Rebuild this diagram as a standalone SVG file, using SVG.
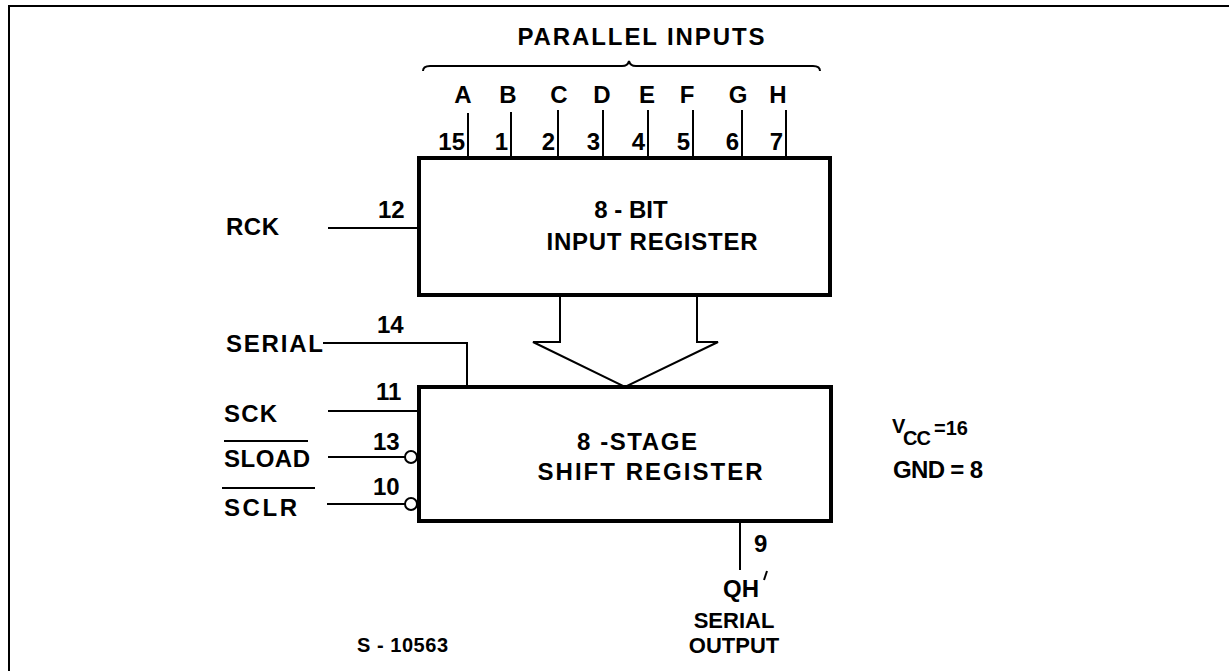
<svg xmlns="http://www.w3.org/2000/svg" width="1229" height="671" viewBox="0 0 1229 671">
<style>
text{font-family:"Liberation Sans",Arial,sans-serif;font-weight:bold;font-size:24px;fill:#000}
.sm{font-size:20px}
.md{font-size:22px}
.ln{stroke:#000;stroke-width:2;fill:none}
.box{stroke:#000;stroke-width:4;fill:#fff}
</style>
<rect width="1229" height="671" fill="#fff"/>
<path d="M9,671 V6 H1229" class="ln" stroke-width="3"/>
<g id="header">
<text x="641" y="45" text-anchor="middle" textLength="247" lengthAdjust="spacing">PARALLEL INPUTS</text>
<path class="ln" d="M423,71 Q423,66 430,66 L622,66 Q628,66 629,61 Q630,66 636,66 L813,66 Q820,66 820,71"/>
</g>
<g id="connectors">
<path class="ln" d="M468,113 V158 M511,112 V158 M558,110 V158 M603,110 V158 M648,110 V158 M693,110 V158 M742,110 V158 M786,110 V158"/>
<path class="ln" d="M328,228 H419"/>
<path class="ln" d="M323,343 H467 V387"/>
<path class="ln" d="M328,411 H419"/>
<path class="ln" d="M328,457 H405"/>
<circle cx="411" cy="457" r="6" class="ln" fill="#fff"/>
<path class="ln" d="M327,504 H405"/>
<circle cx="411" cy="504" r="6" class="ln" fill="#fff"/>
<path class="ln" d="M740,521 V570"/>
<path class="ln" d="M560,295 V342 H533 L625,387 L718,342 H697 V295" stroke-linejoin="miter"/>
</g>
<g id="pinlabels">
<text x="463" y="103" text-anchor="middle">A</text>
<text x="508" y="103" text-anchor="middle">B</text>
<text x="559" y="103" text-anchor="middle">C</text>
<text x="602" y="103" text-anchor="middle">D</text>
<text x="647" y="103" text-anchor="middle">E</text>
<text x="687" y="103" text-anchor="middle">F</text>
<text x="738" y="103" text-anchor="middle">G</text>
<text x="778" y="103" text-anchor="middle">H</text>
<text x="465" y="150" text-anchor="end">15</text>
<text x="508" y="150" text-anchor="end">1</text>
<text x="555" y="150" text-anchor="end">2</text>
<text x="600" y="150" text-anchor="end">3</text>
<text x="645" y="150" text-anchor="end">4</text>
<text x="690" y="150" text-anchor="end">5</text>
<text x="739" y="150" text-anchor="end">6</text>
<text x="783" y="150" text-anchor="end">7</text>
</g>
<g id="input-register">
<rect x="419" y="158" width="411" height="137" class="box"/>
<text x="631" y="218" text-anchor="middle">8 - BIT</text>
<text x="652" y="250" text-anchor="middle" textLength="211" lengthAdjust="spacing">INPUT REGISTER</text>
</g>
<g id="shift-register">
<rect x="419" y="387" width="412" height="134" class="box"/>
<text x="637" y="450" text-anchor="middle" textLength="120" lengthAdjust="spacing">8 -STAGE</text>
<text x="650" y="480" text-anchor="middle" textLength="225" lengthAdjust="spacing">SHIFT REGISTER</text>
</g>
<g id="rck">
<text x="226" y="235" textLength="53" lengthAdjust="spacing">RCK</text>
<text x="378" y="218">12</text>
</g>
<g id="serial">
<text x="226" y="352" textLength="97" lengthAdjust="spacing">SERIAL</text>
<text x="377" y="333">14</text>
</g>
<g id="sck">
<text x="224" y="422" textLength="53" lengthAdjust="spacing">SCK</text>
<text x="376" y="400">11</text>
</g>
<g id="sload">
<text x="224" y="467" textLength="86" lengthAdjust="spacing">SLOAD</text>
<path class="ln" d="M224,441 H308"/>
<text x="373" y="450">13</text>
</g>
<g id="sclr">
<text x="224" y="516" textLength="73" lengthAdjust="spacing">SCLR</text>
<path class="ln" d="M222,488 H315"/>
<text x="373" y="495">10</text>
</g>
<g id="output">
<text x="754" y="552">9</text>
<text x="723" y="597" textLength="36" lengthAdjust="spacing">QH</text>
<path class="ln" d="M767,571 L764,580" stroke-width="2.5"/>
<text x="734" y="628" text-anchor="middle" class="md">SERIAL</text>
<text x="734" y="653" text-anchor="middle" class="md">OUTPUT</text>
</g>
<g id="power">
<text x="892" y="433" class="sm">V</text>
<text x="903" y="445" class="sm" textLength="28" lengthAdjust="spacing">CC</text>
<text x="934" y="435" class="sm">=16</text>
<text x="893" y="478" textLength="90" lengthAdjust="spacing">GND = 8</text>
</g>
<g id="ref">
<text x="357" y="652" class="sm" textLength="91" lengthAdjust="spacing">S - 10563</text>
</g>
</svg>
